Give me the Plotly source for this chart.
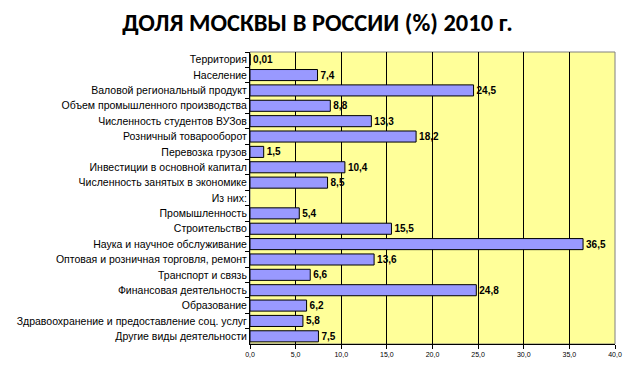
import plotly.graph_objects as go

categories = [
    "Территория",
    "Население",
    "Валовой региональный продукт",
    "Объем промышленного производства",
    "Численность студентов ВУЗов",
    "Розничный товарооборот",
    "Перевозка грузов",
    "Инвестиции в основной капитал",
    "Численность занятых в экономике",
    "Из них:",
    "Промышленность",
    "Строительство",
    "Наука и научное обслуживание",
    "Оптовая и розничная торговля, ремонт",
    "Транспорт и связь",
    "Финансовая деятельность",
    "Образование",
    "Здравоохранение и предоставление соц. услуг",
    "Другие виды деятельности",
]
values = [0.01, 7.4, 24.5, 8.8, 13.3, 18.2, 1.5, 10.4, 8.5, None,
          5.4, 15.5, 36.5, 13.6, 6.6, 24.8, 6.2, 5.8, 7.5]
value_labels = ["0,01", "7,4", "24,5", "8,8", "13,3", "18,2", "1,5", "10,4", "8,5", "",
                "5,4", "15,5", "36,5", "13,6", "6,6", "24,8", "6,2", "5,8", "7,5"]
x_ticks = [0, 5, 10, 15, 20, 25, 30, 35, 40]

fig = go.Figure(go.Bar(
    y=categories,
    x=values,
    orientation="h",
    text=value_labels,
    textposition="outside",
    constraintext="none",
    cliponaxis=False,
    textfont=dict(family="Liberation Sans, Arial", size=10, color="black", weight="bold"),
    marker=dict(color="#9999FF", line=dict(color="black", width=1)),
    hoverinfo="skip",
))

fig.update_layout(
    width=635, height=392,
    margin=dict(l=250, r=20, t=52, b=48),
    paper_bgcolor="white",
    plot_bgcolor="#FFFF99",
    bargap=0.28,
    separators=",.",
    showlegend=False,
    title=dict(
        text="<b>ДОЛЯ МОСКВЫ В РОССИИ (%) 2010 г.</b>",
        x=0.5, xanchor="center", y=0.943, yanchor="middle",
        font=dict(family="Carlito, Liberation Sans, Arial", size=24.5, color="black"),
    ),
    font=dict(family="Liberation Sans, Arial", color="black"),
)

fig.update_xaxes(
    range=[0, 40],
    tickvals=x_ticks,
    tickformat=".1f",
    showgrid=True, gridcolor="black", gridwidth=1,
    zeroline=False,
    showline=True, linecolor="black", linewidth=1,
    ticks="outside", ticklen=4, tickcolor="black",
    tickfont=dict(size=7, family="Liberation Sans, Arial"),
    fixedrange=True,
)
fig.update_yaxes(
    autorange="reversed",
    showline=True, linecolor="black", linewidth=1,
    ticks="outside", ticklen=4, tickcolor="black",
    tickson="boundaries",
    tickfont=dict(size=10.5, family="Liberation Sans, Arial"),
    showgrid=False,
    fixedrange=True,
)
fig.add_shape(type="rect", xref="paper", yref="paper", x0=0, x1=1, y0=0, y1=1,
              line=dict(color="#808080", width=1), layer="below")

fig.write_html("out.html", config={"displayModeBar": False},
               post_script="document.body.style.margin='0px';")
